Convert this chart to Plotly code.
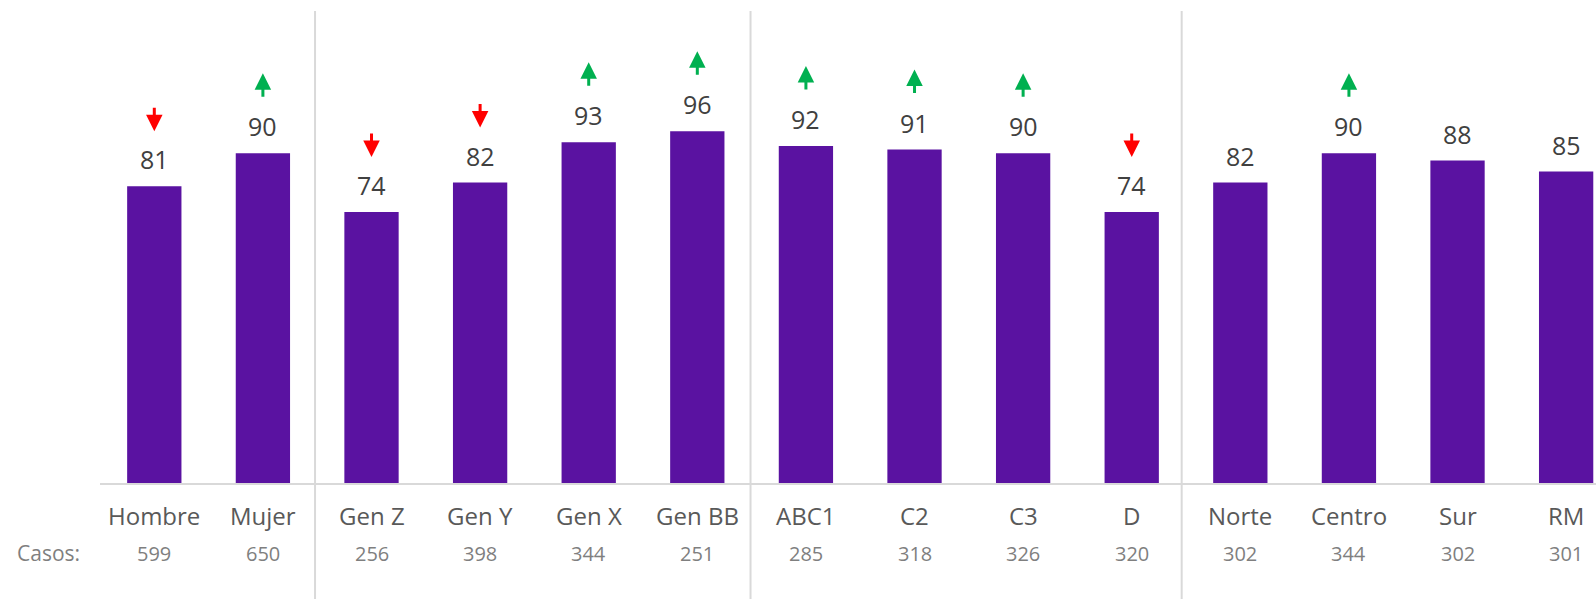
import plotly.graph_objects as go

# datos
categorias = ["Hombre", "Mujer", "Gen Z", "Gen Y", "Gen X", "Gen BB", "ABC1",
              "C2", "C3", "D", "Norte", "Centro", "Sur", "RM"]
valores = [81, 90, 74, 82, 93, 96, 92, 91, 90, 74, 82, 90, 88, 85]
casos = [599, 650, 256, 398, 344, 251, 285, 318, 326, 320, 302, 344, 302, 301]
tendencia = ["down", "up", "down", "down", "up", "up", "up", "up", "up", "down",
             "", "up", "", ""]
separadores = [1.48, 5.49, 9.46]

FUENTE = "Open Sans"
MORADO = "#5A12A1"

# geometria del area de trazado
W, H = 1596, 600
M_L, M_R, M_T, M_B = 100, 0, 10, 117
Y_MAX = 129.1
px_por_unidad = (H - M_T - M_B) / Y_MAX

x = list(range(len(categorias)))

fig = go.Figure()
fig.add_trace(go.Bar(
    x=x, y=valores, width=0.5,
    marker=dict(color=MORADO, line=dict(width=0)),
    hoverinfo="skip",
))

anotaciones = []
for i, v in enumerate(valores):
    # valor sobre la barra
    anotaciones.append(dict(x=i, y=v, xref="x", yref="y", text=str(v),
                            showarrow=False, yanchor="middle", yshift=27,
                            font=dict(family=FUENTE, size=25, color="#404040")))
    # nombre de categoria
    anotaciones.append(dict(x=i, y=0, xref="x", yref="y", text=categorias[i],
                            showarrow=False, yanchor="middle", yshift=-32,
                            font=dict(family=FUENTE, size=24, color="#595959")))
    # casos
    anotaciones.append(dict(x=i, y=0, xref="x", yref="y", text=str(casos[i]),
                            showarrow=False, yanchor="middle", yshift=-70,
                            font=dict(family=FUENTE, size=20, color="#7f7f7f")))
    # flechas
    if tendencia[i]:
        bajo = v + 55 / px_por_unidad
        alto = v + 80 / px_por_unidad
        if tendencia[i] == "up":
            punta, cola, color = alto, bajo, "#00B050"
        else:
            punta, cola, color = bajo, alto, "#FF0000"
        anotaciones.append(dict(x=i, y=punta, xref="x", yref="y",
                                ax=i, ay=cola, axref="x", ayref="y",
                                text="", showarrow=True, arrowhead=2,
                                arrowsize=1.1, arrowwidth=3, arrowcolor=color,
                                standoff=0, startstandoff=0))

# etiqueta "Casos:" en el margen izquierdo
anotaciones.append(dict(x=(48 - M_L) / (W - M_L - M_R), y=0, xref="paper", yref="y",
                        xanchor="center", text="Casos:", showarrow=False,
                        yanchor="middle", yshift=-70,
                        font=dict(family=FUENTE, size=21, color="#7f7f7f")))

formas = [dict(type="line", xref="x", yref="paper", x0=s, x1=s, y0=-0.245, y1=0.998,
               line=dict(color="#d9d9d9", width=2)) for s in separadores]

fig.update_layout(
    width=W, height=H,
    margin=dict(l=M_L, r=M_R, t=M_T, b=M_B, autoexpand=False),
    plot_bgcolor="white", paper_bgcolor="white",
    showlegend=False,
    annotations=anotaciones,
    shapes=formas,
)
fig.update_xaxes(range=[-0.5, 13.275], showticklabels=False, showgrid=False,
                 zeroline=False, showline=True, linecolor="#d9d9d9", linewidth=1.5,
                 fixedrange=True)
fig.update_yaxes(range=[0, Y_MAX], visible=False, fixedrange=True)

# sin margen del body para que la figura ocupe toda la ventana
fig.write_html("out.html", config={"displayModeBar": False},
               post_script="document.body.style.margin='0px';")
